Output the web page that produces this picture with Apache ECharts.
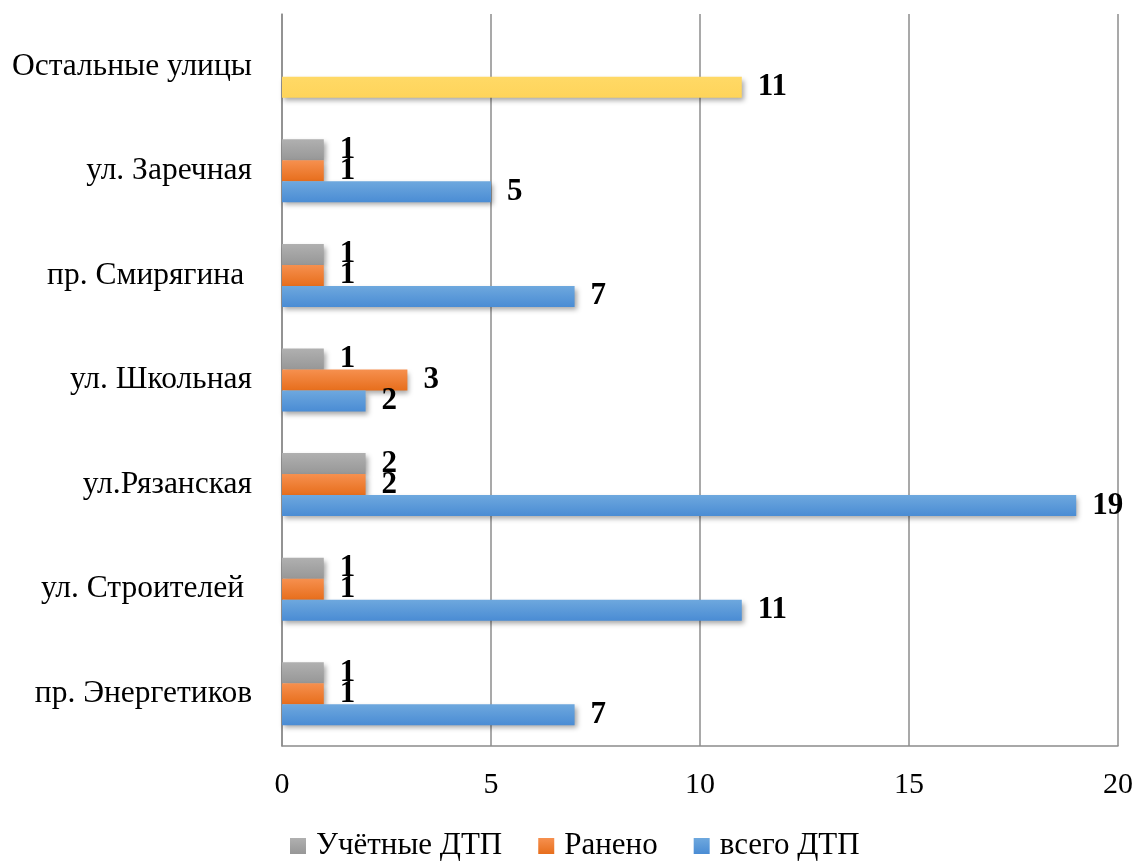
<!DOCTYPE html>
<html>
<head>
<meta charset="utf-8">
<script src="https://cdn.jsdelivr.net/npm/echarts@6/dist/echarts.min.js"></script>
<style>
  html, body { margin: 0; padding: 0; background: #fff; }
  #chart { width: 1138px; height: 861px; }
</style>
</head>
<body>
<div id="chart"></div>
<script>
const streets = [
  "пр. Энергетиков",
  "ул. Строителей ",
  "ул.Рязанская",
  "ул. Школьная",
  "пр. Смирягина ",
  "ул. Заречная",
  "Остальные улицы",
];
const accounted = [1, 1, 2, 1, 1, 1, null]; // Учётные ДТП
const injured = [1, 1, 2, 3, 1, 1, null]; // Ранено
const total = [7, 11, 19, 2, 7, 5, 11]; // всего ДТП
const xTicks = [0, 5, 10, 15, 20];

const FONT = "'Liberation Serif', 'DejaVu Serif', serif";

function grad(top, bottom) {
  return new echarts.graphic.LinearGradient(0, 0, 0, 1, [
    { offset: 0, color: top },
    { offset: 1, color: bottom },
  ]);
}

function toBar(name, data, color) {
  return {
    name,
    type: "bar",
    barWidth: 21,
    barGap: "0%",
    data: data.map((v, i) =>
      name === "всего ДТП" && i === streets.length - 1
        ? { value: v, itemStyle: { color: grad("#ffd966", "#fed45a") } }
        : v
    ),
    itemStyle: {
      color,
      shadowColor: "rgba(0,0,0,0.35)",
      shadowBlur: 5,
      shadowOffsetX: 2,
      shadowOffsetY: 3,
    },
    label: {
      show: true,
      position: "right",
      distance: 16,
      color: "#000",
      fontFamily: FONT,
      fontWeight: "bold",
      fontSize: 31,
    },
  };
}

const chart = echarts.init(document.getElementById("chart"));
chart.setOption({
  animation: false,
  textStyle: { fontFamily: FONT },
  grid: { left: 282, right: 20, top: 14, bottom: 115, containLabel: false },
  legend: {
    top: 830,
    left: 290,
    padding: 0,
    icon: "rect",
    itemWidth: 16,
    itemHeight: 16,
    itemGap: 36,
    itemStyle: { shadowBlur: 0, shadowOffsetX: 0, shadowOffsetY: 0 },
    textStyle: {
      fontFamily: FONT,
      fontSize: 31,
      color: "#000",
      lineHeight: 32,
      padding: [0, 0, 0, 5],
    },
    data: ["Учётные ДТП", "Ранено", "всего ДТП"],
  },
  xAxis: {
    type: "value",
    min: xTicks[0],
    max: xTicks[xTicks.length - 1],
    interval: 5,
    axisLine: { show: true, lineStyle: { color: "#8c8c8c", width: 1.5 } },
    axisTick: { show: false },
    axisLabel: { color: "#000", fontSize: 30, fontFamily: FONT, margin: 24 },
    splitLine: { show: true, lineStyle: { color: "#8c8c8c", width: 1.5 } },
  },
  yAxis: {
    type: "category",
    data: streets,
    axisLine: { show: true, lineStyle: { color: "#8c8c8c", width: 1.5 } },
    axisTick: { show: false },
    axisLabel: { color: "#000", fontSize: 31.5, fontFamily: FONT, margin: 30 },
  },
  series: [
    toBar("Учётные ДТП", accounted, grad("#b0b0b0", "#979797")),
    toBar("Ранено", injured, grad("#f6904f", "#e76e1c")),
    toBar("всего ДТП", total, grad("#6ea8de", "#4a8cd4")),
  ],
});
</script>
</body>
</html>
